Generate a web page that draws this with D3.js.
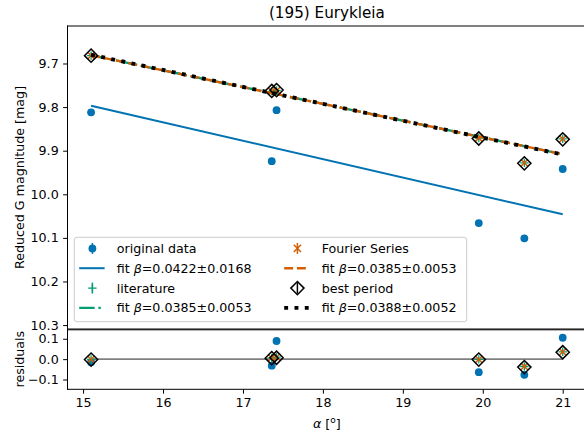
<!DOCTYPE html>
<html>
<head>
<meta charset="utf-8">
<script src="https://cdn.jsdelivr.net/npm/d3@7"></script>
<style>
  html, body { margin: 0; padding: 0; background: #fff; }
  svg { display: block; font-family: "DejaVu Sans", sans-serif; }
</style>
</head>
<body>
<svg id="chart" width="584" height="437"></svg>
<script>
// Phase angle of each observation [deg]
const phaseAngle = [15.10, 17.36, 17.42, 19.95, 20.52, 21.00];

// Reduced G magnitudes per source [mag]
const originalMag   = [9.812, 9.924, 9.807, 10.066, 10.101, 9.942];
const literatureMag = [9.682, 9.764, 9.762, 9.871, 9.928, 9.873];
const fourierMag    = [9.682, 9.764, 9.762, 9.871, 9.928, 9.873];
const bestMag       = [9.682, 9.763, 9.761, 9.872, 9.929, 9.874];

// Residuals against each linear fit [mag]
const originalRes   = [-0.015, -0.032, 0.089, -0.064, -0.077, 0.105];
const literatureRes = [-0.001, 0.006, 0.010, -0.001, -0.036, 0.036];
const fourierRes    = [-0.001, 0.006, 0.010, -0.001, -0.036, 0.036];
const bestRes       = [-0.002, 0.005, 0.007, -0.002, -0.039, 0.034];

// Linear phase fits: magnitude at the first phase angle and slope beta [mag/deg]
const fitSpan      = [15.10, 21.00];
const originalFit  = { start: 9.797, beta: 0.0422, err: 0.0168 };
const literatureFit= { start: 9.681, beta: 0.0385, err: 0.0053 };
const fourierFit   = { start: 9.681, beta: 0.0385, err: 0.0053 };
const bestFit      = { start: 9.680, beta: 0.0388, err: 0.0052 };

// Tick labels
const xTicks    = [15, 16, 17, 18, 19, 20, 21];
const magTicks  = [9.7, 9.8, 9.9, 10.0, 10.1, 10.2, 10.3];
const resTicks  = [-0.1, 0.0, 0.1];

const C = { blue: "#0173b2", green: "#029e73", orange: "#d55e00", black: "#000" };
const FS = 12.67;

const svg = d3.select("#chart");
const L = 67.5, R = 586.3;
const mainTop = 26, mainBot = 329, resTop = 329, resBot = 389.3;

const x = d3.scaleLinear().domain([14.805, 21.295]).range([L, R]);
const y = d3.scaleLinear().domain([9.614, 10.309]).range([mainTop, mainBot]);
const yr = d3.scaleLinear().domain([-0.148, 0.148]).range([resBot, resTop]);

const fmt1 = d3.format(".1f");

// ---------- marker helpers ----------
function circle(g, cx, cy, col) {
  g.append("circle").attr("cx", cx).attr("cy", cy).attr("r", 3.9).attr("fill", col);
}
function plus(g, cx, cy, col) {
  const s = 4.2;
  g.append("path").attr("d", `M${cx - s},${cy}H${cx + s}M${cx},${cy - s}V${cy + s}`)
    .attr("stroke", col).attr("stroke-width", 1.3).attr("fill", "none");
}
function cross(g, cx, cy, col) {
  const s = 3.6;
  g.append("path").attr("d", `M${cx - s},${cy - s}L${cx + s},${cy + s}M${cx - s},${cy + s}L${cx + s},${cy - s}`)
    .attr("stroke", col).attr("stroke-width", 1.5).attr("fill", "none");
}
function diamond(g, cx, cy, col) {
  const s = 6.6;
  g.append("path").attr("d", `M${cx},${cy - s}L${cx + s},${cy}L${cx},${cy + s}L${cx - s},${cy}Z`)
    .attr("stroke", col).attr("stroke-width", 1.5).attr("fill", "none");
}
function vbar(g, cx, cy, h, col, w) {
  g.append("line").attr("x1", cx).attr("x2", cx).attr("y1", cy - h).attr("y2", cy + h)
    .attr("stroke", col).attr("stroke-width", w || 1.5);
}

// ---------- line styles ----------
const styles = {
  orig: { col: C.blue, w: 2.0, dash: null, cap: "butt" },
  lit:  { col: C.green, w: 2.4, dash: "15.4,3.8,2.4,3.8", cap: "butt" },
  four: { col: C.orange, w: 2.4, dash: "8.9,3.8", cap: "butt" },
  best: { col: C.black, w: 3.9, dash: "3.9,6.4", cap: "butt" }
};

function fitLine(g, fit, st) {
  const pts = fitSpan.map(a => [x(a), y(fit.start + fit.beta * (a - fitSpan[0]))]);
  const p = g.append("path").attr("d", d3.line()(pts)).attr("fill", "none")
    .attr("stroke", st.col).attr("stroke-width", st.w).attr("stroke-linecap", st.cap);
  if (st.dash) p.attr("stroke-dasharray", st.dash);
}

// ---------- main panel ----------
const gm = svg.append("g");

phaseAngle.forEach((a, i) => circle(gm, x(a), y(originalMag[i]), C.blue));
fitLine(gm, originalFit, styles.orig);
phaseAngle.forEach((a, i) => plus(gm, x(a), y(literatureMag[i]), C.green));
fitLine(gm, literatureFit, styles.lit);
phaseAngle.forEach((a, i) => { cross(gm, x(a), y(fourierMag[i]), C.orange); });
fitLine(gm, fourierFit, styles.four);
phaseAngle.forEach((a, i) => diamond(gm, x(a), y(bestMag[i]), C.black));
fitLine(gm, bestFit, styles.best);

// ---------- residual panel ----------
const gr = svg.append("g");
gr.append("line").attr("x1", x(fitSpan[0])).attr("x2", x(fitSpan[1]))
  .attr("y1", yr(0)).attr("y2", yr(0)).attr("stroke", "#808080").attr("stroke-width", 1.9);
phaseAngle.forEach((a, i) => circle(gr, x(a), yr(originalRes[i]), C.blue));
phaseAngle.forEach((a, i) => plus(gr, x(a), yr(literatureRes[i]), C.green));
phaseAngle.forEach((a, i) => cross(gr, x(a), yr(fourierRes[i]), C.orange));
phaseAngle.forEach((a, i) => diamond(gr, x(a), yr(bestRes[i]), C.black));

// ---------- axes ----------
function styleAxis(g) {
  g.selectAll("path.domain").remove();
  g.selectAll(".tick line").attr("stroke", "#000").attr("stroke-width", 1);
  g.selectAll(".tick text").attr("font-size", FS).attr("font-family", "DejaVu Sans").attr("fill", "#000");
}

svg.append("g").attr("transform", `translate(${L},0)`)
  .call(d3.axisLeft(y).tickValues(magTicks).tickFormat(fmt1).tickSize(4.4).tickPadding(4.4))
  .call(styleAxis);
svg.append("g").attr("transform", `translate(${L},0)`)
  .call(d3.axisLeft(yr).tickValues(resTicks).tickFormat(fmt1).tickSize(4.4).tickPadding(4.4))
  .call(styleAxis);
svg.append("g").attr("transform", `translate(0,${resBot})`)
  .call(d3.axisBottom(x).tickValues(xTicks).tickFormat(d3.format("d")).tickSize(4.4).tickPadding(4.4))
  .call(styleAxis);

// spines
const spine = (x1, y1, x2, y2) => svg.append("line").attr("x1", x1).attr("y1", y1).attr("x2", x2).attr("y2", y2)
  .attr("stroke", "#000").attr("stroke-width", 1).attr("stroke-linecap", "square");
spine(L, mainTop, R, mainTop);
spine(L, mainTop, L, mainBot);
spine(R, mainTop, R, mainBot);
spine(L, mainBot, R, mainBot);
spine(L, resTop + 0.8, R, resTop + 0.8);
spine(L, resTop, L, resBot);
spine(R, resTop, R, resBot);
spine(L, resBot, R, resBot);

// ---------- legend ----------
const lg = svg.append("g");
lg.append("rect").attr("x", 74.3).attr("y", 237.3).attr("width", 392.4).attr("height", 84.4)
  .attr("rx", 2.5).attr("fill", "#fff").attr("fill-opacity", 0.8)
  .attr("stroke", "#cccccc").attr("stroke-width", 1);

const rows = [248.4, 268.2, 288.1, 307.9];
const cols = [{ h0: 79.2, h1: 104.6, tx: 116.7 }, { h0: 284.2, h1: 309.6, tx: 321.7 }];
const fitLabel = f => `=${f.beta.toFixed(4)}±${f.err.toFixed(4)}`;

const legendItems = [
  { col: 0, row: 0, kind: "marker", draw: (g, cx, cy) => { vbar(g, cx, cy, 5.5, C.blue); circle(g, cx, cy, C.blue); }, text: "original data" },
  { col: 0, row: 1, kind: "line", st: styles.orig, fit: originalFit },
  { col: 0, row: 2, kind: "marker", draw: (g, cx, cy) => { vbar(g, cx, cy, 5.5, C.green); plus(g, cx, cy, C.green); }, text: "literature" },
  { col: 0, row: 3, kind: "line", st: styles.lit, fit: literatureFit },
  { col: 1, row: 0, kind: "marker", draw: (g, cx, cy) => { vbar(g, cx, cy, 5.5, C.orange); cross(g, cx, cy, C.orange); }, text: "Fourier Series" },
  { col: 1, row: 1, kind: "line", st: styles.four, fit: fourierFit },
  { col: 1, row: 2, kind: "marker", draw: (g, cx, cy) => { vbar(g, cx, cy, 5.5, C.black); diamond(g, cx, cy, C.black); }, text: "best period" },
  { col: 1, row: 3, kind: "line", st: styles.best, fit: bestFit }
];

legendItems.forEach(it => {
  const c = cols[it.col], cy = rows[it.row];
  if (it.kind === "marker") {
    it.draw(lg, (c.h0 + c.h1) / 2 + 0.5, cy);
  } else {
    const p = lg.append("line").attr("x1", c.h0).attr("x2", c.h1 + (it.st.dash === styles.best.dash ? 3 : 0))
      .attr("y1", cy).attr("y2", cy).attr("stroke", it.st.col)
      .attr("stroke-width", it.st.w).attr("stroke-linecap", it.st.cap);
    if (it.st.dash) p.attr("stroke-dasharray", it.st.dash);
  }
  const t = lg.append("text").attr("x", c.tx).attr("y", cy).attr("dy", "0.36em")
    .attr("font-size", FS).attr("fill", "#000");
  if (it.kind === "marker") {
    t.text(it.text);
  } else {
    t.append("tspan").text("fit ");
    t.append("tspan").attr("font-style", "italic").text("β");
    t.append("tspan").text(fitLabel(it.fit));
  }
});

// ---------- titles and labels ----------
svg.append("text").attr("x", (L + R) / 2).attr("y", 18.4).attr("text-anchor", "middle")
  .attr("font-size", 15.2).attr("fill", "#000").text("(195) Eurykleia");

svg.append("text").attr("transform", `translate(23.5,${(mainTop + mainBot) / 2}) rotate(-90)`)
  .attr("text-anchor", "middle").attr("font-size", FS).attr("fill", "#000")
  .text("Reduced G magnitude [mag]");
svg.append("text").attr("transform", `translate(23.5,${(resTop + resBot) / 2}) rotate(-90)`)
  .attr("text-anchor", "middle").attr("font-size", FS).attr("fill", "#000")
  .text("residuals");

const xl = svg.append("text").attr("x", (L + R) / 2).attr("y", 428).attr("text-anchor", "middle")
  .attr("font-size", FS).attr("fill", "#000");
xl.append("tspan").attr("font-style", "italic").text("α");
xl.append("tspan").text(" [");
xl.append("tspan").attr("font-size", 9).attr("dy", -5).text("o");
xl.append("tspan").attr("dy", 5).text("]");
</script>
</body>
</html>
